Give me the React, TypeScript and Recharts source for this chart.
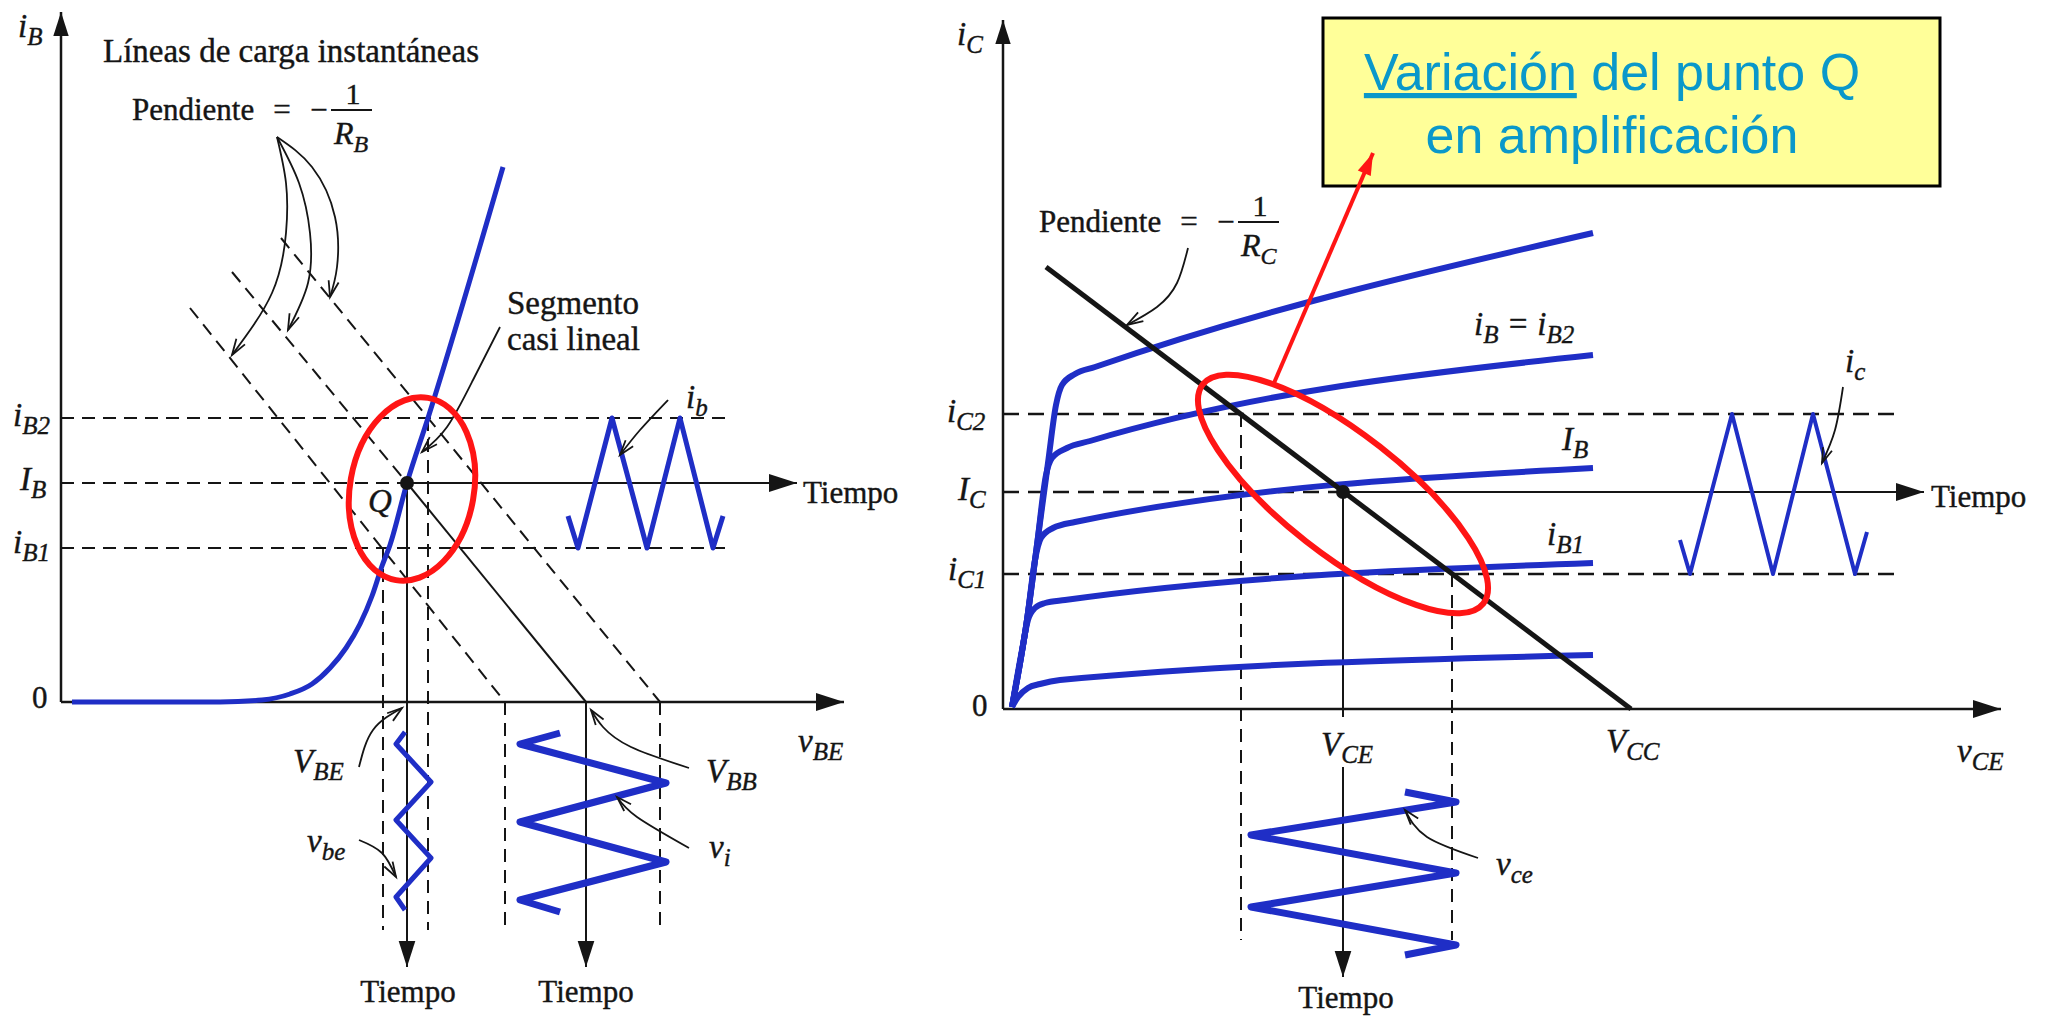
import React from 'react';
import { ComposedChart, Line, Scatter, XAxis, YAxis, ReferenceArea } from 'recharts';

type Pt = { x: number; y: number };
const P = (x: number, y: number): Pt => ({ x, y });

// both panels use the same pixels-per-unit on x and y, so slopes and arrow angles stay true
const PX = 10;
const SERIF = '"Liberation Serif", "Times New Roman", serif';
const SANS = '"Liberation Sans", Arial, sans-serif';
const INK = '#151515';
const BLUE = '#1f2ec6';
const RED = '#ff1515';
const TEAL = '#0a98ca';

/* ---------- left panel: i_B vs v_BE ---------- */
const LEFT_X: [number, number] = [-6.1, 87.9];
const LEFT_Y: [number, number] = [-31.7, 70.2];

const ibAxis = [P(0, 0), P(0, 69)];
const vbeAxis = [P(0, 0), P(78.3, 0)];
const ib2Level = [P(0, 28.4), P(66.6, 28.4)];
const ib1Level = [P(0, 15.4), P(66.6, 15.4)];
const ibQLevel = [P(0, 21.9), P(34.6, 21.9)];
const ibTime = [P(34.6, 21.9), P(73.6, 21.9)];

const inputCurve = [
  P(1.1, 0), P(15.9, 0), P(20.1, 0.2), P(22.9, 0.8), P(25.1, 1.8), P(26.9, 3.4), P(28.5, 5.4),
  P(29.9, 7.8), P(31.1, 10.6), P(32.1, 13.6), P(32.9, 15.7), P(34.6, 21.9), P(36.7, 28.4), P(44.2, 53.5),
];

const loadA = [P(12.9, 39.4), P(44.4, 0)];
const loadBUpper = [P(17.1, 43), P(34.6, 21.9)];
const loadB = [P(34.6, 21.9), P(52.5, 0)];
const loadC = [P(22, 46.4), P(59.9, 0)];

const dropIb1 = [P(32.2, 15.4), P(32.2, -22.8)];
const dropIb2 = [P(36.7, 28.4), P(36.7, -22.8)];
const vbeTime = [P(34.6, 21.9), P(34.6, -26.5)];
const dropA = [P(44.4, 0), P(44.4, -22.8)];
const vbbTime = [P(52.5, 0), P(52.5, -26.5)];
const dropC = [P(59.9, 0), P(59.9, -22.8)];

const ibWave = [P(50.7, 18.6), P(51.7, 15.4), P(55.1, 28.4), P(58.6, 15.4), P(61.9, 28.4), P(65.2, 15.4), P(66.2, 18.6)];
const vbeWave = [P(34.4, -3), P(33.5, -4.2), P(37, -8), P(33.5, -11.8), P(37, -15.6), P(33.5, -19.5), P(34.4, -20.8)];
const viWave = [P(49.9, -3.1), P(45.9, -4.2), P(60.5, -8.1), P(45.9, -12), P(60.5, -16), P(45.9, -19.8), P(49.9, -21)];

const slopeToA = [P(21.6, 56.5), P(22.5, 51.9), P(22.5, 46.9), P(21.1, 40.9), P(17.1, 34.7)];
const slopeToB = [P(21.6, 56.5), P(23.8, 51.9), P(24.9, 46.9), P(24.7, 41.9), P(22.7, 37.2)];
const slopeToC = [P(21.6, 56.5), P(25.1, 53.5), P(27.4, 48.5), P(27.6, 43.5), P(26.9, 40.5)];
const segmentPointer = [P(43.9, 37.5), P(41.2, 32.2), P(38.6, 27.5), P(36.1, 25)];
const vbePointer = [P(29.8, -6.5), P(31.2, -2.8), P(34.1, -0.6)];
const vbbPointer = [P(62.8, -6.6), P(57, -4.5), P(54.2, -2.5), P(53, -0.8)];
const viPointer = [P(62.8, -14.6), P(57.6, -11.5), P(55.6, -9.5)];
const vbeWavePointer = [P(29.8, -13.8), P(32.1, -15.1), P(33.5, -17.5)];
const ibPointer = [P(60.7, 30.2), P(57.9, 27.2), P(55.9, 24.7)];

const leftQ = [P(34.6, 21.9)];
const leftEllipse = [{ x: 35.1, y: 21.3, rx: 6.2, ry: 9.25, tilt: 10 }];

const leftMath = [
  { x: -4.3, y: 66.5, tex: 'i_{B}' },
  { x: -4.8, y: 27.6, tex: 'i_{B2}' },
  { x: -4.1, y: 21.2, tex: 'I_{B}' },
  { x: -4.8, y: 14.9, tex: 'i_{B1}' },
  { x: 73.7, y: -5, tex: 'v_{BE}' },
  { x: 23.2, y: -7, tex: 'V_{BE}' },
  { x: 64.5, y: -8, tex: 'V_{BB}' },
  { x: 64.8, y: -15.6, tex: 'v_{i}' },
  { x: 24.6, y: -15, tex: 'v_{be}' },
  { x: 62.5, y: 29.4, tex: 'i_{b}' },
  { x: 30.7, y: 19, tex: 'Q' },
];
const leftNotes = [
  { x: 4.2, y: 64, text: 'Líneas de carga instantáneas' },
  { x: 44.6, y: 38.8, text: 'Segmento' },
  { x: 44.6, y: 35.2, text: 'casi lineal' },
];
const leftText = [
  { x: 74.2, y: 19.9, text: 'Tiempo' },
  { x: -2.9, y: -0.6, text: '0' },
];
const leftCentered = [
  { x: 34.7, y: -30, text: 'Tiempo' },
  { x: 52.5, y: -30, text: 'Tiempo' },
];
const leftSlope = [{ x: 7.1, y: 58.2, tex: 'R_{B}' }];

/* ---------- right panel: i_C vs v_CE ---------- */
const RIGHT_X: [number, number] = [-6.3, 104.4];
const RIGHT_Y: [number, number] = [-31, 70.9];

const icAxis = [P(0, 0), P(0, 68.9)];
const vceAxis = [P(0, 0), P(99.8, 0)];
const ic2Level = [P(0, 29.5), P(89.6, 29.5)];
const ic1Level = [P(0, 13.5), P(89.6, 13.5)];
const icQLevel = [P(0, 21.7), P(34, 21.7)];
const icTime = [P(34, 21.7), P(92.1, 21.7)];
const loadLine = [P(4.3, 44.2), P(62.8, 0)];

const curveTop = [P(0.9, 0.2), P(2.4, 8.9), P(3.4, 16.4), P(4.5, 24.6), P(5.3, 30.4), P(5.9, 32.4), P(7.2, 33.5), P(9.2, 34.2), P(59, 47.6)];
const curveIB2 = [P(0.9, 0.2), P(2.4, 8.9), P(3.4, 16.4), P(4.3, 23.4), P(4.9, 25.1), P(6.4, 26.1), P(8.7, 26.8), P(59, 35.4)];
const curveIBQ = [P(0.9, 0.2), P(2.4, 8.9), P(3.2, 14.9), P(3.8, 17.1), P(5, 18.1), P(7.2, 18.7), P(59, 24.1)];
const curveIB1 = [P(0.9, 0.2), P(1.9, 5.9), P(2.5, 8.9), P(3.2, 10.1), P(4.2, 10.6), P(6.2, 10.9), P(59, 14.6)];
const curveLow = [P(0.9, 0.2), P(1.5, 1.2), P(2.5, 2.1), P(3.7, 2.5), P(5.7, 2.9), P(59, 5.4)];

const dropIc2 = [P(23.8, 29.5), P(23.8, -23.1)];
const dropIc1 = [P(44.9, 13.5), P(44.9, -23.1)];
// the V_CE projection is broken where its label sits
const vceDrop = [P(34, 21.7), P(34, -0.8)];
const vceTime = [P(34, -5.8), P(34, -26.8)];

const icWave = [P(67.7, 16.9), P(68.7, 13.5), P(72.9, 29.5), P(77, 13.5), P(81, 29.5), P(85.2, 13.5), P(86.4, 17.7)];
const vceWave = [P(40.2, -8.3), P(45.3, -9.3), P(24.8, -12.6), P(45.3, -16.4), P(24.8, -19.8), P(45.3, -23.6), P(40.2, -24.6)];

const rcPointer = [P(18.5, 46.1), P(17.4, 42.6), P(15.4, 40.2), P(12.4, 38.4)];
const icPointer = [P(84, 32.2), P(83.2, 27.9), P(81.9, 24.6)];
const vcePointer = [P(47.5, -14.9), P(42.4, -12.8), P(40.2, -10.1)];
const notePointer = [P(27.1, 32.6), P(37, 55.6)];

const rightQ = [P(34, 21.7)];
const rightEllipse = [{ x: 34, y: 21.5, rx: 17.8, ry: 6, tilt: 38 }];

const rightMath = [
  { x: -4.6, y: 66.4, tex: 'i_{C}' },
  { x: -5.6, y: 28.7, tex: 'i_{C2}' },
  { x: -4.5, y: 20.9, tex: 'I_{C}' },
  { x: -5.5, y: 12.9, tex: 'i_{C1}' },
  { x: 31.8, y: -4.6, tex: 'V_{CE}' },
  { x: 60.3, y: -4.3, tex: 'V_{CC}' },
  { x: 95.4, y: -5.3, tex: 'v_{CE}' },
  { x: 47.1, y: 37.4, tex: 'i_{B} = i_{B2}' },
  { x: 55.9, y: 25.9, tex: 'I_{B}' },
  { x: 54.4, y: 16.4, tex: 'i_{B1}' },
  { x: 84.2, y: 33.7, tex: 'i_{c}' },
  { x: 49.3, y: -16.6, tex: 'v_{ce}' },
];
const rightText = [
  { x: 92.8, y: 20.2, text: 'Tiempo' },
  { x: -3.1, y: -0.7, text: '0' },
];
const rightCentered = [{ x: 34.3, y: -29.9, text: 'Tiempo' }];
const rightSlope = [{ x: 3.6, y: 47.7, tex: 'R_{C}' }];

const noteBox = { x1: 32, x2: 93.7, y1: 52.3, y2: 69.1 };
const noteLines = [
  { x: 60.9, y: 61.9, lead: 'Variación', text: ' del punto Q' },
  { x: 60.9, y: 55.6, lead: '', text: 'en amplificación' },
];

/* ---------- drawing helpers ---------- */
type Opts = {
  color?: string;
  width?: number;
  dash?: string;
  curve?: 'linear' | 'monotone' | 'natural';
  head?: 'fill' | 'open';
  headSize?: number;
};

const arrowHead = (data: Pt[], o: Opts) => (props: any) => {
  const { cx, cy, index } = props;
  const last = data.length - 1;
  if (index !== last || cx == null || cy == null) return <g key={`h${index}`} />;
  const a = data[last - 1];
  const b = data[last];
  const deg = (Math.atan2(a.y - b.y, b.x - a.x) * 180) / Math.PI;
  const L = o.headSize ?? 22;
  const W = L * 0.32;
  const color = o.color ?? INK;
  const tf = `translate(${cx},${cy}) rotate(${deg})`;
  return o.head === 'fill' ? (
    <polygon key="head" points={`0,0 ${-L},${-W} ${-L},${W}`} transform={tf} fill={color} />
  ) : (
    <polyline key="head" points={`${-L},${-W} 0,0 ${-L},${W}`} transform={tf} fill="none" stroke={color} strokeWidth={1.8} />
  );
};

const path = (key: string, data: Pt[], o: Opts = {}) => (
  <Line
    key={key}
    data={data}
    dataKey="y"
    type={o.curve ?? 'linear'}
    stroke={o.color ?? INK}
    strokeWidth={o.width ?? 2}
    strokeDasharray={o.dash}
    strokeLinejoin="round"
    dot={o.head ? arrowHead(data, o) : false}
    activeDot={false}
    legendType="none"
    isAnimationActive={false}
  />
);

// scanned print looks a touch heavier than the plain font, so the glyphs get a hairline outline
const INKED = { stroke: INK, strokeWidth: 0.4 };

const MathText = ({ x, y, tex, size = 33, sub = 25 }: { x: number; y: number; tex: string; size?: number; sub?: number }) => {
  const parts = tex.split(/_\{([^}]*)\}/);
  const drop = Math.round(sub * 0.32);
  let lowered = false;
  return (
    <text x={x} y={y} fontFamily={SERIF} fontStyle="italic" fontSize={size} fill={INK} {...INKED} style={{ whiteSpace: 'pre' }}>
      {parts.map((p, i) => {
        if (!p) return null;
        const isSub = i % 2 === 1;
        let dy = 0;
        if (isSub && !lowered) { dy = drop; lowered = true; }
        if (!isSub && lowered) { dy = -drop; lowered = false; }
        return (
          <tspan key={i} dy={dy} fontSize={isSub ? sub : size}>
            {p}
          </tspan>
        );
      })}
    </text>
  );
};

const mathShape = (p: any) => <MathText x={p.cx} y={p.cy} tex={p.payload.tex} />;

const textShape = (anchor: 'start' | 'middle', size: number) => (p: any) => (
  <text x={p.cx} y={p.cy} textAnchor={anchor} fontFamily={SERIF} fontSize={size} fill={INK} {...INKED}>
    {p.payload.text}
  </text>
);

const slopeShape = (p: any) => {
  const { cx, cy } = p;
  return (
    <g>
      <text x={cx} y={cy} fontFamily={SERIF} fontSize={31} fill={INK} {...INKED}>Pendiente</text>
      <text x={cx + 150} y={cy} textAnchor="middle" fontFamily={SERIF} fontSize={31} fill={INK} {...INKED}>=</text>
      <text x={cx + 187} y={cy} textAnchor="middle" fontFamily={SERIF} fontSize={31} fill={INK} {...INKED}>−</text>
      <line x1={cx + 199} x2={cx + 240} y1={cy - 10} y2={cy - 10} stroke={INK} strokeWidth={1.8} />
      <text x={cx + 221} y={cy - 16} textAnchor="middle" fontFamily={SERIF} fontSize={30} fill={INK} {...INKED}>1</text>
      <MathText x={cx + 202} y={cy + 24} tex={p.payload.tex} size={32} sub={24} />
    </g>
  );
};

const ellipseShape = (p: any) => (
  <ellipse
    cx={p.cx}
    cy={p.cy}
    rx={p.payload.rx * PX}
    ry={p.payload.ry * PX}
    transform={`rotate(${p.payload.tilt} ${p.cx} ${p.cy})`}
    fill="none"
    stroke={RED}
    strokeWidth={6}
  />
);

const dotShape = (p: any) => <circle cx={p.cx} cy={p.cy} r={7} fill={INK} />;

const noteShape = (p: any) => (
  <text x={p.cx} y={p.cy} textAnchor="middle" fontFamily={SANS} fontSize={52} fill={TEAL} style={{ whiteSpace: 'pre' }}>
    {p.payload.lead ? <tspan style={{ textDecoration: 'underline' }}>{p.payload.lead}</tspan> : null}
    {p.payload.text}
  </text>
);

const marks = (key: string, data: any[], shape: (p: any) => React.ReactElement) => (
  <Scatter key={key} data={data} dataKey="y" shape={shape} legendType="none" isAnimationActive={false} />
);

const span = (d: [number, number]) => Math.round((d[1] - d[0]) * PX);

const DASH = '13 8';
const POINTER: Opts = { curve: 'natural', width: 1.8, head: 'open', headSize: 15 };

export default function App() {
  return (
    <div style={{ position: 'fixed', left: 0, top: 0, width: 2047, height: 1019, background: '#fff', overflow: 'hidden' }}>
      <div style={{ position: 'absolute', left: 0, top: 0 }}>
        <ComposedChart width={span(LEFT_X)} height={span(LEFT_Y)} margin={{ top: 0, right: 0, bottom: 0, left: 0 }}>
          <XAxis type="number" dataKey="x" domain={LEFT_X} allowDataOverflow hide />
          <YAxis type="number" domain={LEFT_Y} allowDataOverflow hide />
          {path('ibAxis', ibAxis, { width: 2.5, head: 'fill', headSize: 24 })}
          {path('vbeAxis', vbeAxis, { width: 2.5, head: 'fill', headSize: 28 })}
          {path('ib2', ib2Level, { dash: DASH })}
          {path('ib1', ib1Level, { dash: DASH })}
          {path('ibQ', ibQLevel, { dash: DASH })}
          {path('ibTime', ibTime, { head: 'fill', headSize: 28 })}
          {path('loadA', loadA, { dash: DASH })}
          {path('loadBUpper', loadBUpper, { dash: DASH })}
          {path('loadB', loadB, { width: 2 })}
          {path('loadC', loadC, { dash: DASH })}
          {path('dropIb1', dropIb1, { dash: DASH })}
          {path('dropIb2', dropIb2, { dash: DASH })}
          {path('dropA', dropA, { dash: DASH })}
          {path('dropC', dropC, { dash: DASH })}
          {path('vbeTime', vbeTime, { head: 'fill', headSize: 26 })}
          {path('vbbTime', vbbTime, { head: 'fill', headSize: 26 })}
          {path('input', inputCurve, { color: BLUE, width: 5, curve: 'monotone' })}
          {path('ibWave', ibWave, { color: BLUE, width: 5 })}
          {path('vbeWave', vbeWave, { color: BLUE, width: 5 })}
          {path('viWave', viWave, { color: BLUE, width: 7 })}
          {path('slopeA', slopeToA, { ...POINTER, headSize: 16 })}
          {path('slopeB', slopeToB, { ...POINTER, headSize: 16 })}
          {path('slopeC', slopeToC, { ...POINTER, headSize: 16 })}
          {path('segPtr', segmentPointer, { ...POINTER, headSize: 16 })}
          {path('vbePtr', vbePointer, POINTER)}
          {path('vbbPtr', vbbPointer, POINTER)}
          {path('viPtr', viPointer, POINTER)}
          {path('vbeWavePtr', vbeWavePointer, POINTER)}
          {path('ibPtr', ibPointer, POINTER)}
          {marks('leftQ', leftQ, dotShape)}
          {marks('leftMath', leftMath, mathShape)}
          {marks('leftNotes', leftNotes, textShape('start', 33))}
          {marks('leftText', leftText, textShape('start', 31))}
          {marks('leftCentered', leftCentered, textShape('middle', 31))}
          {marks('leftSlope', leftSlope, slopeShape)}
          {marks('leftEllipse', leftEllipse, ellipseShape)}
        </ComposedChart>
      </div>
      <div style={{ position: 'absolute', left: 940, top: 0 }}>
        <ComposedChart width={span(RIGHT_X)} height={span(RIGHT_Y)} margin={{ top: 0, right: 0, bottom: 0, left: 0 }}>
          <XAxis type="number" dataKey="x" domain={RIGHT_X} allowDataOverflow hide />
          <YAxis type="number" domain={RIGHT_Y} allowDataOverflow hide />
          <ReferenceArea
            x1={noteBox.x1}
            x2={noteBox.x2}
            y1={noteBox.y1}
            y2={noteBox.y2}
            fill="#ffff99"
            fillOpacity={1}
            stroke="#000"
            strokeWidth={3}
            ifOverflow="visible"
          />
          {path('icAxis', icAxis, { width: 2.5, head: 'fill', headSize: 24 })}
          {path('vceAxis', vceAxis, { width: 2.5, head: 'fill', headSize: 28 })}
          {path('ic2', ic2Level, { dash: '16 9', width: 2.5 })}
          {path('ic1', ic1Level, { dash: '16 9', width: 2.5 })}
          {path('icQ', icQLevel, { dash: '16 9', width: 2.5 })}
          {path('icTime', icTime, { head: 'fill', headSize: 28 })}
          {path('dropIc2', dropIc2, { dash: DASH })}
          {path('dropIc1', dropIc1, { dash: DASH })}
          {path('vceDrop', vceDrop, {})}
          {path('vceTime', vceTime, { head: 'fill', headSize: 26 })}
          {path('curveTop', curveTop, { color: BLUE, width: 6, curve: 'monotone' })}
          {path('curveIB2', curveIB2, { color: BLUE, width: 6, curve: 'monotone' })}
          {path('curveIBQ', curveIBQ, { color: BLUE, width: 6, curve: 'monotone' })}
          {path('curveIB1', curveIB1, { color: BLUE, width: 6, curve: 'monotone' })}
          {path('curveLow', curveLow, { color: BLUE, width: 6, curve: 'monotone' })}
          {path('load', loadLine, { width: 5 })}
          {path('icWave', icWave, { color: BLUE, width: 4 })}
          {path('vceWave', vceWave, { color: BLUE, width: 7 })}
          {path('rcPtr', rcPointer, { ...POINTER, headSize: 16 })}
          {path('icPtr', icPointer, POINTER)}
          {path('vcePtr', vcePointer, POINTER)}
          {path('notePtr', notePointer, { color: RED, width: 4, head: 'fill', headSize: 22 })}
          {marks('rightQ', rightQ, dotShape)}
          {marks('rightMath', rightMath, mathShape)}
          {marks('rightText', rightText, textShape('start', 31))}
          {marks('rightCentered', rightCentered, textShape('middle', 31))}
          {marks('rightSlope', rightSlope, slopeShape)}
          {marks('noteLines', noteLines, noteShape)}
          {marks('rightEllipse', rightEllipse, ellipseShape)}
        </ComposedChart>
      </div>
    </div>
  );
}
